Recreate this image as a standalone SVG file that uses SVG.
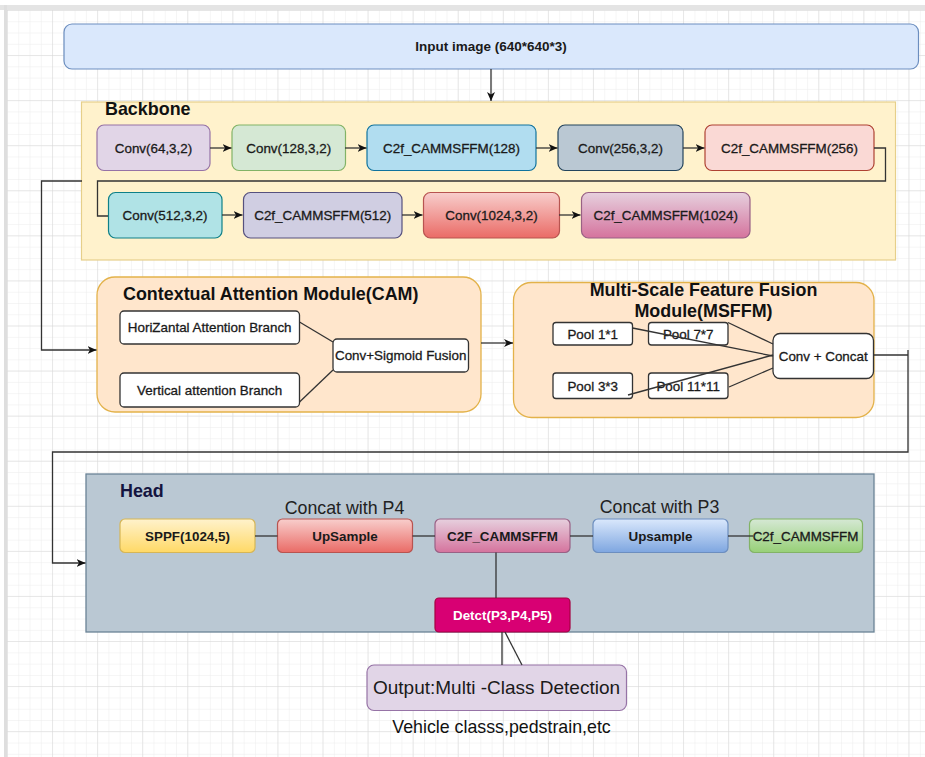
<svg xmlns="http://www.w3.org/2000/svg" width="925" height="757" viewBox="0 0 925 757">
<defs>
<pattern id="minor" patternUnits="userSpaceOnUse" x="7" y="10" width="11.27" height="11.27">
<path d="M0,0 H11.27 M0,0 V11.27" fill="none" stroke="#ececec" stroke-width="1"/>
</pattern>
<pattern id="major" patternUnits="userSpaceOnUse" x="7" y="10" width="45.07" height="45.07">
<path d="M0,0 H45.07 M0,0 V45.07" fill="none" stroke="#d8d8d8" stroke-width="1"/>
</pattern>
<marker id="arr" markerUnits="userSpaceOnUse" markerWidth="10" markerHeight="10" viewBox="0 0 10 10" refX="9" refY="5" orient="auto">
<path d="M0,1 L9,5 L0,9 L2.5,5 z" fill="#111"/>
</marker>
<linearGradient id="gRed" x1="0" y1="0" x2="0" y2="1"><stop offset="0" stop-color="#f8cecc"/><stop offset="1" stop-color="#ea6b66"/></linearGradient>
<linearGradient id="gPink" x1="0" y1="0" x2="0" y2="1"><stop offset="0" stop-color="#e6d0de"/><stop offset="1" stop-color="#d5739d"/></linearGradient>
<linearGradient id="gYellow" x1="0" y1="0" x2="0" y2="1"><stop offset="0" stop-color="#fff2cc"/><stop offset="1" stop-color="#ffd966"/></linearGradient>
<linearGradient id="gBlue" x1="0" y1="0" x2="0" y2="1"><stop offset="0" stop-color="#dae8fc"/><stop offset="1" stop-color="#7ea6e0"/></linearGradient>
<linearGradient id="gGreen" x1="0" y1="0" x2="0" y2="1"><stop offset="0" stop-color="#d5e8d4"/><stop offset="1" stop-color="#97d077"/></linearGradient>
<style>
text { font-family: "Liberation Sans", Arial, sans-serif; }
.nt { font-size: 13.4px; fill: #1a1a1a; text-anchor: middle; stroke: #1a1a1a; stroke-width: 0.3; }
.nb { font-size: 13.4px; fill: #1a1a1a; text-anchor: middle; font-weight: bold; }
.title { font-size: 17.9px; font-weight: bold; fill: #111; }
.lbl { font-size: 17.8px; fill: #222; text-anchor: middle; }
.conn { fill: none; stroke: #333; stroke-width: 1.3; }
.wb { fill: #ffffff; stroke: #333; stroke-width: 1.3; }
</style>
</defs>

<!-- background -->
<rect x="0" y="0" width="925" height="757" fill="#ffffff"/>
<rect x="7" y="10" width="918" height="747" fill="url(#minor)"/>
<rect x="7" y="10" width="918" height="747" fill="url(#major)"/>
<rect x="0" y="5" width="925" height="5" fill="#e4e4e4"/>
<rect x="4" y="5" width="3" height="752" fill="#dedede"/>

<!-- containers -->
<g id="backbone">
<rect x="81.5" y="102" width="814" height="158" fill="#fff2cc" stroke="#e6cf8a" stroke-width="1.2"/>
<text class="title" x="105" y="115">Backbone</text>
</g>
<g id="cam">
<rect x="97" y="277" width="384" height="135" rx="18" fill="#ffe6cc" stroke="#e3b24a" stroke-width="1.3"/>
<text class="title" x="123" y="300">Contextual Attention Module(CAM)</text>
</g>
<g id="msffm">
<rect x="513.5" y="282.5" width="360.5" height="135" rx="18" fill="#ffe6cc" stroke="#e3b24a" stroke-width="1.3"/>
<text class="title" x="703.5" y="295.5" text-anchor="middle">Multi-Scale Feature Fusion</text>
<text class="title" x="703.5" y="317" text-anchor="middle">Module(MSFFM)</text>
</g>
<g id="head">
<rect x="86" y="474" width="788" height="158" fill="#bac8d3" stroke="#6a8396" stroke-width="1.3"/>
<text class="title" x="120" y="497" style="fill:#14143f">Head</text>
</g>

<!-- nodes -->
<g id="input">
<rect x="64" y="24" width="854.5" height="45" rx="8" fill="#dae8fc" stroke="#6c8ebf" stroke-width="1.2"/>
<text class="nb" x="491" y="51" style="font-size:13.5px">Input image (640*640*3)</text>
</g>

<g id="conv64"><rect x="97" y="125" width="113" height="45.5" rx="7" fill="#e1d5e7" stroke="#9673a6" stroke-width="1.2"/><text class="nt" x="153.5" y="152.7">Conv(64,3,2)</text></g>
<g id="conv128"><rect x="232" y="125" width="113.5" height="45.5" rx="7" fill="#d5e8d4" stroke="#82b366" stroke-width="1.2"/><text class="nt" x="288.7" y="152.7">Conv(128,3,2)</text></g>
<g id="c2f128"><rect x="367" y="125" width="169" height="45.5" rx="7" fill="#b1ddf0" stroke="#10739e" stroke-width="1.2"/><text class="nt" x="451.5" y="152.7">C2f_CAMMSFFM(128)</text></g>
<g id="conv256"><rect x="558" y="125" width="125" height="45.5" rx="7" fill="#bac8d3" stroke="#23445d" stroke-width="1.2"/><text class="nt" x="620.5" y="152.7">Conv(256,3,2)</text></g>
<g id="c2f256"><rect x="705" y="125" width="169" height="45.5" rx="7" fill="#fad9d5" stroke="#ae4132" stroke-width="1.2"/><text class="nt" x="789.5" y="152.7">C2f_CAMMSFFM(256)</text></g>

<g id="conv512"><rect x="108.5" y="192.5" width="113.5" height="45.5" rx="7" fill="#b0e3e6" stroke="#0e8088" stroke-width="1.2"/><text class="nt" x="165" y="220">Conv(512,3,2)</text></g>
<g id="c2f512"><rect x="243.5" y="192.5" width="158.5" height="45.5" rx="7" fill="#d0cee2" stroke="#56517e" stroke-width="1.2"/><text class="nt" x="322.7" y="220">C2f_CAMMSFFM(512)</text></g>
<g id="conv1024"><rect x="423.5" y="192.5" width="136" height="45.5" rx="7" fill="url(#gRed)" stroke="#b85450" stroke-width="1.2"/><text class="nt" x="491.5" y="220">Conv(1024,3,2)</text></g>
<g id="c2f1024"><rect x="581.5" y="192.5" width="168.5" height="45.5" rx="7" fill="url(#gPink)" stroke="#996185" stroke-width="1.2"/><text class="nt" x="665.7" y="220">C2f_CAMMSFFM(1024)</text></g>

<g id="hori"><rect class="wb" x="120" y="311" width="179.5" height="33" rx="4"/><text class="nt" x="209.7" y="332.3">HoriZantal Attention Branch</text></g>
<g id="vert"><rect class="wb" x="120" y="373" width="179.5" height="34" rx="4"/><text class="nt" x="209.7" y="394.7">Vertical attention Branch</text></g>
<g id="fusion"><rect class="wb" x="333" y="339" width="135.5" height="33" rx="4"/><text class="nt" x="400.7" y="360.3">Conv+Sigmoid Fusion</text></g>

<g id="pool1"><rect class="wb" x="553" y="322.5" width="79.5" height="22.5" rx="3"/><text class="nt" x="592.7" y="338.5">Pool 1*1</text></g>
<g id="pool7"><rect class="wb" x="648.5" y="322.5" width="79.5" height="22.5" rx="3"/><text class="nt" x="688.2" y="338.5">Pool 7*7</text></g>
<g id="pool3"><rect class="wb" x="553" y="373" width="79.5" height="25.5" rx="3"/><text class="nt" x="592.7" y="390.5">Pool 3*3</text></g>
<g id="pool11"><rect class="wb" x="648.5" y="373" width="79.5" height="25.5" rx="3"/><text class="nt" x="688.2" y="390.5">Pool 11*11</text></g>
<g id="concat"><rect class="wb" x="773" y="333.5" width="100.5" height="45" rx="7"/><text class="nt" x="823.2" y="360.5">Conv + Concat</text></g>

<g id="sppf"><rect x="120" y="519" width="135" height="33.5" rx="5" fill="url(#gYellow)" stroke="#d6b656" stroke-width="1.2"/><text class="nb" x="187.5" y="540.5">SPPF(1024,5)</text></g>
<g id="upsample4"><text class="lbl" x="344.5" y="514">Concat with P4</text><rect x="277.5" y="519" width="135" height="33.5" rx="5" fill="url(#gRed)" stroke="#b85450" stroke-width="1.2"/><text class="nb" x="345" y="540.5">UpSample</text></g>
<g id="c2fhead"><rect x="435" y="519" width="135" height="33.5" rx="5" fill="url(#gPink)" stroke="#996185" stroke-width="1.2"/><text class="nb" x="502.5" y="540.5">C2F_CAMMSFFM</text></g>
<g id="upsample3"><text class="lbl" x="659.5" y="512.7">Concat with P3</text><rect x="593" y="519" width="135" height="33.5" rx="5" fill="url(#gBlue)" stroke="#6c8ebf" stroke-width="1.2"/><text class="nb" x="660.5" y="540.5">Upsample</text></g>
<g id="c2fgreen"><rect x="749.5" y="519" width="113" height="33.5" rx="5" fill="url(#gGreen)" stroke="#82b366" stroke-width="1.2"/><text class="nt" x="805.5" y="540.5">C2f_CAMMSFFM</text></g>
<g id="detect"><rect x="435" y="598" width="135" height="34" rx="4" fill="#d80073" stroke="#a50040" stroke-width="1.2"/><text class="nb" x="502.5" y="619.5" style="fill:#ffffff">Detct(P3,P4,P5)</text></g>

<g id="output"><rect x="367" y="665" width="259.5" height="45.5" rx="7" fill="#e1d5e7" stroke="#9673a6" stroke-width="1.2"/><text x="496.5" y="693.5" text-anchor="middle" style="font-size:19px;fill:#1a1a1a">Output:Multi -Class Detection</text></g>
<g id="note"><text class="lbl" x="501.5" y="732.5" style="fill:#111">Vehicle classs,pedstrain,etc</text></g>

<!-- connectors -->
<g id="connectors">
<path class="conn" d="M491,69 V101" marker-end="url(#arr)"/>
<path class="conn" d="M210,148 H231.5" marker-end="url(#arr)"/>
<path class="conn" d="M345,148 H366.5" marker-end="url(#arr)"/>
<path class="conn" d="M536,148 H557.5" marker-end="url(#arr)"/>
<path class="conn" d="M683,148 H704.5" marker-end="url(#arr)"/>
<path class="conn" d="M874,148 H885.5 V181 H97.5 V216 H108"/>
<path class="conn" d="M222,215 H242.5" marker-end="url(#arr)"/>
<path class="conn" d="M402,215 H422.5" marker-end="url(#arr)"/>
<path class="conn" d="M559,215 H580.5" marker-end="url(#arr)"/>
<path class="conn" d="M82,181 H41.5 V350 H96.5" marker-end="url(#arr)"/>
<path class="conn" d="M299.5,322 L333,342"/>
<path class="conn" d="M299.5,402 L333,370"/>
<path class="conn" d="M481,343 H513" marker-end="url(#arr)"/>
<path class="conn" d="M632.5,328 L773,356"/>
<path class="conn" d="M728,322.5 L773,344"/>
<path class="conn" d="M628,395 L773,355"/>
<path class="conn" d="M729,387 L773,368"/>
<path class="conn" d="M873.5,355 H908"/>
<path class="conn" d="M908,350 V452 H52.5 V563 H85.5" marker-end="url(#arr)"/>
<path class="conn" d="M255,536 H277.5"/>
<path class="conn" d="M412.5,536 H435"/>
<path class="conn" d="M570,536 H593"/>
<path class="conn" d="M728,536 H753"/>
<path class="conn" d="M496,552.5 V598"/>
<path class="conn" d="M502,632 V665"/>
<path class="conn" d="M505,632 L522,665"/>
</g>
</svg>
